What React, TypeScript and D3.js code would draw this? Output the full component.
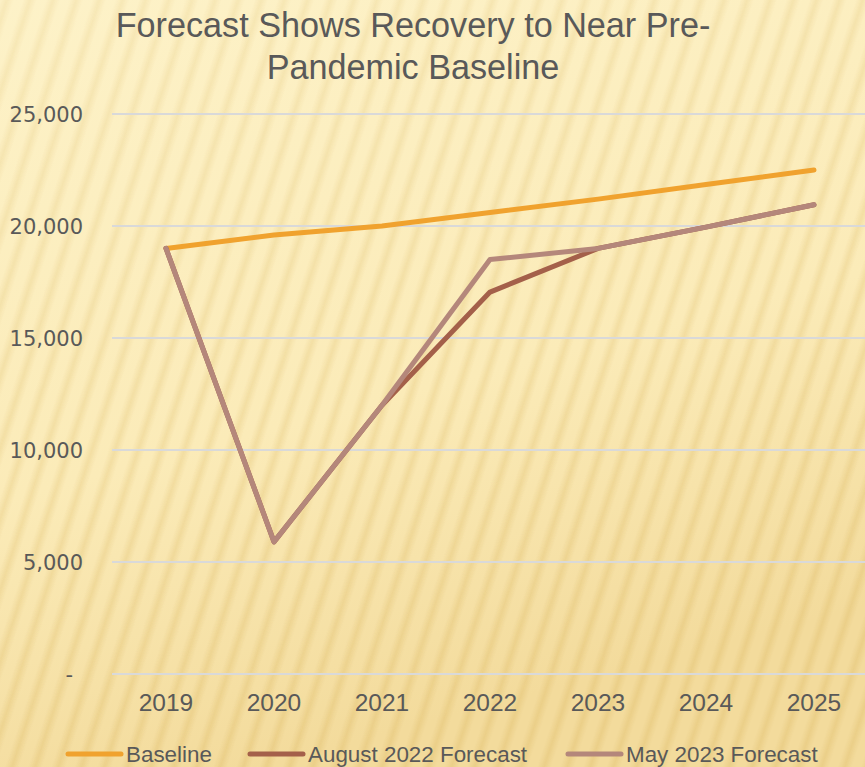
import * as d3 from "d3";
import { useRef, useEffect } from "react";

// data
const years = ["2019", "2020", "2021", "2022", "2023", "2024", "2025"];
const baseline = [19000, 19600, 20000, 20600, 21200, 21850, 22500];
const august2022 = [19000, 5900, 12000, 17050, 19000, 19950, 20950];
const may2023 = [19000, 5900, 12000, 18500, 19000, 19950, 20950];
const yTicks = [0, 5000, 10000, 15000, 20000, 25000];

const seriesNames = ["Baseline", "August 2022 Forecast", "May 2023 Forecast"];
const seriesColors = ["#F0A22E", "#A4604A", "#B4877B"];

const W = 865;
const H = 767;

const App = () => {
  const ref = useRef(null);

  useEffect(() => {
    const svg = d3.select(ref.current);
    svg.selectAll("*").remove();

    const margin = { top: 114, left: 112, right: -3, bottom: 93 };

    // background: pale yellow with soft diagonal stripes
    const defs = svg.append("defs");
    const bg = defs.append("linearGradient").attr("id", "bg")
      .attr("x1", 0).attr("y1", 0).attr("x2", 0.3).attr("y2", 1);
    bg.append("stop").attr("offset", "0%").attr("stop-color", "#FDF2C8");
    bg.append("stop").attr("offset", "60%").attr("stop-color", "#FBEBB8");
    bg.append("stop").attr("offset", "100%").attr("stop-color", "#F3DB9C");

    const sg = defs.append("linearGradient").attr("id", "stripe")
      .attr("x1", 0).attr("y1", 0).attr("x2", 1).attr("y2", 0);
    sg.append("stop").attr("offset", "0%").attr("stop-color", "#D9B45C").attr("stop-opacity", 0);
    sg.append("stop").attr("offset", "50%").attr("stop-color", "#D9B45C").attr("stop-opacity", 0.3);
    sg.append("stop").attr("offset", "100%").attr("stop-color", "#D9B45C").attr("stop-opacity", 0);

    const pat = defs.append("pattern").attr("id", "stripes")
      .attr("patternUnits", "userSpaceOnUse")
      .attr("width", 22).attr("height", 40)
      .attr("patternTransform", "rotate(18)");
    pat.append("rect").attr("x", 0).attr("y", 0).attr("width", 13).attr("height", 40)
      .attr("fill", "url(#stripe)");

    const fade = defs.append("linearGradient").attr("id", "fade")
      .attr("x1", 0).attr("y1", 0).attr("x2", 0.35).attr("y2", 1);
    fade.append("stop").attr("offset", "0%").attr("stop-color", "#fff").attr("stop-opacity", 0.5);
    fade.append("stop").attr("offset", "100%").attr("stop-color", "#fff").attr("stop-opacity", 1);
    const mask = defs.append("mask").attr("id", "m");
    mask.append("rect").attr("width", W).attr("height", H).attr("fill", "url(#fade)");

    svg.append("rect").attr("width", W).attr("height", H).attr("fill", "url(#bg)");
    svg.append("rect").attr("width", W).attr("height", H).attr("fill", "url(#stripes)")
      .attr("mask", "url(#m)");

    const x = d3.scaleBand().domain(years).range([margin.left, W - margin.right]);
    const y = d3.scaleLinear().domain([0, 25000]).range([H - margin.bottom, margin.top]);

    // gridlines
    svg.append("g").selectAll("line").data(yTicks).join("line")
      .attr("x1", margin.left).attr("x2", W)
      .attr("y1", (d) => y(d)).attr("y2", (d) => y(d))
      .attr("stroke", "#D9D9D9").attr("stroke-width", 2);

    // y labels
    svg.append("g").selectAll("text").data(yTicks).join("text")
      .attr("x", (d) => (d === 0 ? 73 : 83))
      .attr("y", (d) => y(d))
      .attr("dy", "0.36em")
      .attr("text-anchor", "end")
      .attr("font-family", "DejaVu Sans")
      .attr("font-size", 21)
      .attr("fill", "#595959")
      .text((d) => (d === 0 ? "-" : d3.format(",")(d)));

    // x labels
    svg.append("g").selectAll("text").data(years).join("text")
      .attr("x", (d) => x(d) + x.bandwidth() / 2)
      .attr("y", 711)
      .attr("text-anchor", "middle")
      .attr("font-family", "Liberation Sans")
      .attr("font-size", 24.5)
      .attr("fill", "#595959")
      .text((d) => d);

    // lines
    const line = d3.line()
      .x((d, i) => x(years[i]) + x.bandwidth() / 2)
      .y((d) => y(d));
    const allSeries = [baseline, august2022, may2023];
    allSeries.forEach((s, i) => {
      svg.append("path")
        .attr("d", line(s))
        .attr("fill", "none")
        .attr("stroke", seriesColors[i])
        .attr("stroke-width", 5)
        .attr("stroke-linejoin", "round")
        .attr("stroke-linecap", "round");
    });

    // legend
    const legendX = [66, 248, 566];
    seriesNames.forEach((name, i) => {
      const g = svg.append("g").attr("transform", `translate(${legendX[i]}, 754)`);
      g.append("line").attr("x1", 2).attr("x2", 55).attr("y1", 0).attr("y2", 0)
        .attr("stroke", seriesColors[i]).attr("stroke-width", 5).attr("stroke-linecap", "round");
      g.append("text").attr("x", 60).attr("y", 8)
        .attr("font-family", "Liberation Sans").attr("font-size", 22.4)
        .attr("fill", "#595959").text(name);
    });

    // title
    const title = svg.append("text")
      .attr("text-anchor", "middle")
      .attr("font-family", "Liberation Sans")
      .attr("font-size", 34.2)
      .attr("fill", "#595959");
    title.append("tspan").attr("x", 413).attr("y", 37).text("Forecast Shows Recovery to Near Pre-");
    title.append("tspan").attr("x", 413).attr("y", 79).text("Pandemic Baseline");
  }, []);

  return (
    <svg ref={ref} width={W} height={H}
      style={{ position: "absolute", left: 0, top: 0, display: "block" }} />
  );
};

export default App;
